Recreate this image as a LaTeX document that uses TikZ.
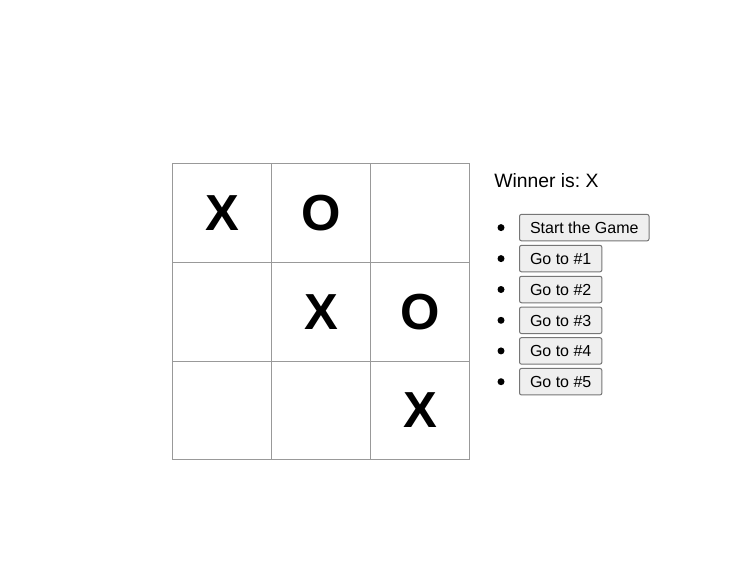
\documentclass[tikz,border=0pt]{standalone}
\usepackage{fontspec}
\setmainfont{Liberation Sans}
\frenchspacing
\definecolor{gridgray}{HTML}{999999}
\definecolor{btnfill}{HTML}{EFEFEF}
\definecolor{btnborder}{HTML}{767676}
\begin{document}
\begin{tikzpicture}[x=0.75pt,y=-0.75pt,
  cell/.style={draw=gridgray,line width=0.75pt,minimum width=99*0.75pt,minimum height=98.5*0.75pt,inner sep=0pt,
    font=\fontsize{38}{38}\selectfont\bfseries},
  btn/.style={draw=btnborder,fill=btnfill,line width=0.75pt,rounded corners=1.5pt,anchor=west,
    minimum height=26.5*0.75pt,inner xsep=10.5*0.75pt,inner ysep=0pt,
    font=\fontsize{12}{12}\selectfont,text height=8.6pt,text depth=0pt},
  bullet/.style={circle,fill=black,inner sep=0pt,minimum size=7*0.75pt}]
\useasboundingbox[fill=white] (0,0) rectangle (748,570);
% board
\node[cell] (c11) at (222,213.25) {X};
\node[cell] (c12) at (321,213.25) {O};
\node[cell] (c13) at (420,213.25) {};
\node[cell] (c21) at (222,311.75) {};
\node[cell] (c22) at (321,311.75) {X};
\node[cell] (c23) at (420,311.75) {O};
\node[cell] (c31) at (222,410.25) {};
\node[cell] (c32) at (321,410.25) {};
\node[cell] (c33) at (420,410.25) {X};
% status
\node[anchor=base west,inner sep=0pt,font=\fontsize{14.5}{14.5}\selectfont] (status) at (494,187) {Winner is: X};
% history
\node[bullet] (b0) at (501,227.6) {};
\node[btn] (h0) at (519,227.6) {Start the Game};
\node[bullet] (b1) at (501,258.6) {};
\node[btn] (h1) at (519,258.6) {Go to \#1};
\node[bullet] (b2) at (501,289.5) {};
\node[btn] (h2) at (519,289.5) {Go to \#2};
\node[bullet] (b3) at (501,320.3) {};
\node[btn] (h3) at (519,320.3) {Go to \#3};
\node[bullet] (b4) at (501,350.9) {};
\node[btn] (h4) at (519,350.9) {Go to \#4};
\node[bullet] (b5) at (501,381.7) {};
\node[btn] (h5) at (519,381.7) {Go to \#5};
\end{tikzpicture}
\end{document}
